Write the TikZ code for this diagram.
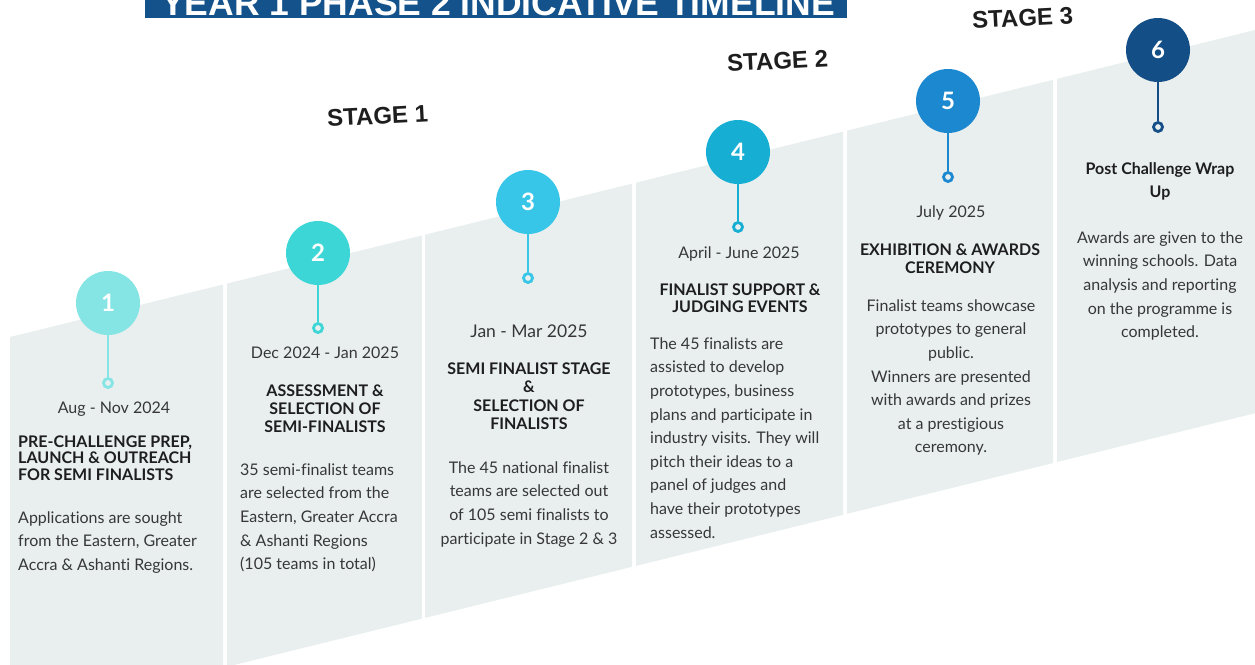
\documentclass[tikz,border=0pt]{standalone}
\usepackage{fontspec}
\setmainfont{Lato}[Ligatures=NoCommon]
\newfontfamily\stagefont{Liberation Sans}
\usepackage{tikz}
\definecolor{panelgray}{RGB}{233,239,239}
\definecolor{bodygray}{RGB}{55,55,55}
\definecolor{headblack}{RGB}{30,30,30}
\definecolor{stepone}{RGB}{133,228,228}
\definecolor{steptwo}{RGB}{61,214,214}
\definecolor{stepthree}{RGB}{56,198,232}
\definecolor{stepfour}{RGB}{23,174,212}
\definecolor{stepfive}{RGB}{27,136,208}
\definecolor{stepsix}{RGB}{19,79,134}
\definecolor{bannerblue}{RGB}{19,82,138}
\tikzstyle{numdot} = [circle, minimum size=64pt, inner sep=0pt, text=white,
font=\fontsize{24}{24}\selectfont\bfseries]
\tikzstyle{ring} = [circle, draw, line width=2.8pt, fill=panelgray, minimum size=9pt, inner sep=0pt]
\tikzstyle{stem} = [line width=2.8pt]
\tikzstyle{datetext} = [anchor=base, inner sep=0pt, text=bodygray, font=\fontsize{16}{20}\selectfont]
\tikzstyle{headtext} = [anchor=north, inner sep=0pt, text=headblack, align=center,
font=\fontsize{16}{18}\selectfont\bfseries]
\tikzstyle{bodytext} = [anchor=north, inner sep=0pt, text=bodygray, align=center,
font=\fontsize{16}{23.6}\selectfont]
\tikzstyle{stagetext} = [anchor=base, inner sep=0pt, rotate=3, text=headblack,
font=\fontsize{24}{24}\selectfont\stagefont\bfseries]
\newcommand{\slantpanel}[2]{\fill[panelgray] (#1,{339.5-0.2466*#1}) -- (#2,{339.5-0.2466*#2})
-- (#2,{722.7-0.2466*#2}) -- (#1,{722.7-0.2466*#1}) -- cycle;}

\begin{document}
\begin{tikzpicture}[x=1pt, y=-1pt]
		\useasboundingbox (0,0) rectangle (1255,664);
		\clip (0,0) rectangle (1255,664);
		%\fill[white] (0,0) rectangle (1255,664);
		\slantpanel{10}{223}
		\slantpanel{227}{422}
		\slantpanel{425}{632}
		\slantpanel{636}{843}
		\slantpanel{847}{1053}
		\slantpanel{1057}{1260}
		
		\fill[bannerblue] (145,-30) rectangle (847,18);
		\node[anchor=base, inner sep=0pt, text=white, font=\fontsize{35.5}{36}\selectfont\stagefont\bfseries]
		(title) at (498,15) {YEAR 1 PHASE 2 INDICATIVE TIMELINE};
		
		\node[stagetext] (stage1) at (378,124) {STAGE 1};
		\node[stagetext] (stage2) at (778,69) {STAGE 2};
		\node[stagetext] (stage3) at (1023,26) {STAGE 3};
		
		\node[numdot, fill=stepone] (c1) at (108,303) {1};
		\node[numdot, fill=steptwo] (c2) at (318,253) {2};
		\node[numdot, fill=stepthree] (c3) at (528,202) {3};
		\node[numdot, fill=stepfour] (c4) at (738,152) {4};
		\node[numdot, fill=stepfive] (c5) at (948,101) {5};
		\node[numdot, fill=stepsix] (c6) at (1158,50) {6};
		\node[ring, draw=stepone] (r1) at (108,383) {};
		\node[ring, draw=steptwo] (r2) at (318,328) {};
		\node[ring, draw=stepthree] (r3) at (528,278) {};
		\node[ring, draw=stepfour] (r4) at (738,227) {};
		\node[ring, draw=stepfive] (r5) at (948,177) {};
		\node[ring, draw=stepsix] (r6) at (1158,127) {};
		\draw[stem, stepone] (c1) -- (r1);
		\draw[stem, steptwo] (c2) -- (r2);
		\draw[stem, stepthree] (c3) -- (r3);
		\draw[stem, stepfour] (c4) -- (r4);
		\draw[stem, stepfive] (c5) -- (r5);
		\draw[stem, stepsix] (c6) -- (r6);
		
		\node[datetext] (date1) at (114,413) {Aug - Nov 2024};
		\node[headtext, anchor=north west, align=left, font=\fontsize{16}{16.5}\selectfont\bfseries]
		(head1) at (18,435.5) {PRE-CHALLENGE PREP,\\LAUNCH \& OUTREACH\\FOR SEMI FINALISTS};
		\node[bodytext, anchor=north west, align=left] (body1) at (18,511.4)
		{Applications are sought\\from the Eastern, Greater\\Accra \& Ashanti Regions.};
		
		\node[datetext] (date2) at (325,358) {Dec 2024 - Jan 2025};
		\node[headtext] (head2) at (325,384.5) {ASSESSMENT \&\\SELECTION OF\\SEMI-FINALISTS};
		\node[bodytext, anchor=north west, align=left] (body2) at (240,463.4)
		{35 semi-finalist teams\\are selected from the\\Eastern, Greater Accra\\\& Ashanti Regions\\(105 teams in total)};
		
		\node[datetext, font=\fontsize{17.5}{20}\selectfont] (date3) at (529,337) {Jan - Mar 2025};
		\node[headtext, font=\fontsize{16}{18.3}\selectfont\bfseries] (head3) at (529,362.5)
		{SEMI FINALIST STAGE\\\&\\SELECTION OF\\FINALISTS};
		\node[bodytext] (body3) at (529,461.4)
		{The 45 national finalist\\teams are selected out\\of 105 semi finalists to\\participate in Stage 2 \& 3};
		
		\node[datetext] (date4) at (739,258) {April - June 2025};
		\node[headtext, font=\fontsize{16}{17.5}\selectfont\bfseries] (head4) at (740,283.5)
		{FINALIST SUPPORT \&\\JUDGING EVENTS};
		\node[bodytext, anchor=north west, align=left] (body4) at (650,337.4)
		{The 45 finalists are\\assisted to develop\\prototypes, business\\plans and participate in\\industry visits. They will\\pitch their ideas to a\\panel of judges and\\have their prototypes\\assessed.};
		
		\node[datetext] (date5) at (951,217) {July 2025};
		\node[headtext] (head5) at (950,243.5) {EXHIBITION \& AWARDS\\CEREMONY};
		\node[bodytext] (body5) at (951,299.4)
		{Finalist teams showcase\\prototypes to general\\public.\\Winners are presented\\with awards and prizes\\at a prestigious\\ceremony.};
		
		\node[headtext, font=\fontsize{16}{23}\selectfont\bfseries] (head6) at (1160,162.2) {Post Challenge Wrap\\Up};
		\node[bodytext] (body6) at (1160,231.4)
		{Awards are given to the\\winning schools. Data\\analysis and reporting\\on the programme is\\completed.};
\end{tikzpicture}
\end{document}
